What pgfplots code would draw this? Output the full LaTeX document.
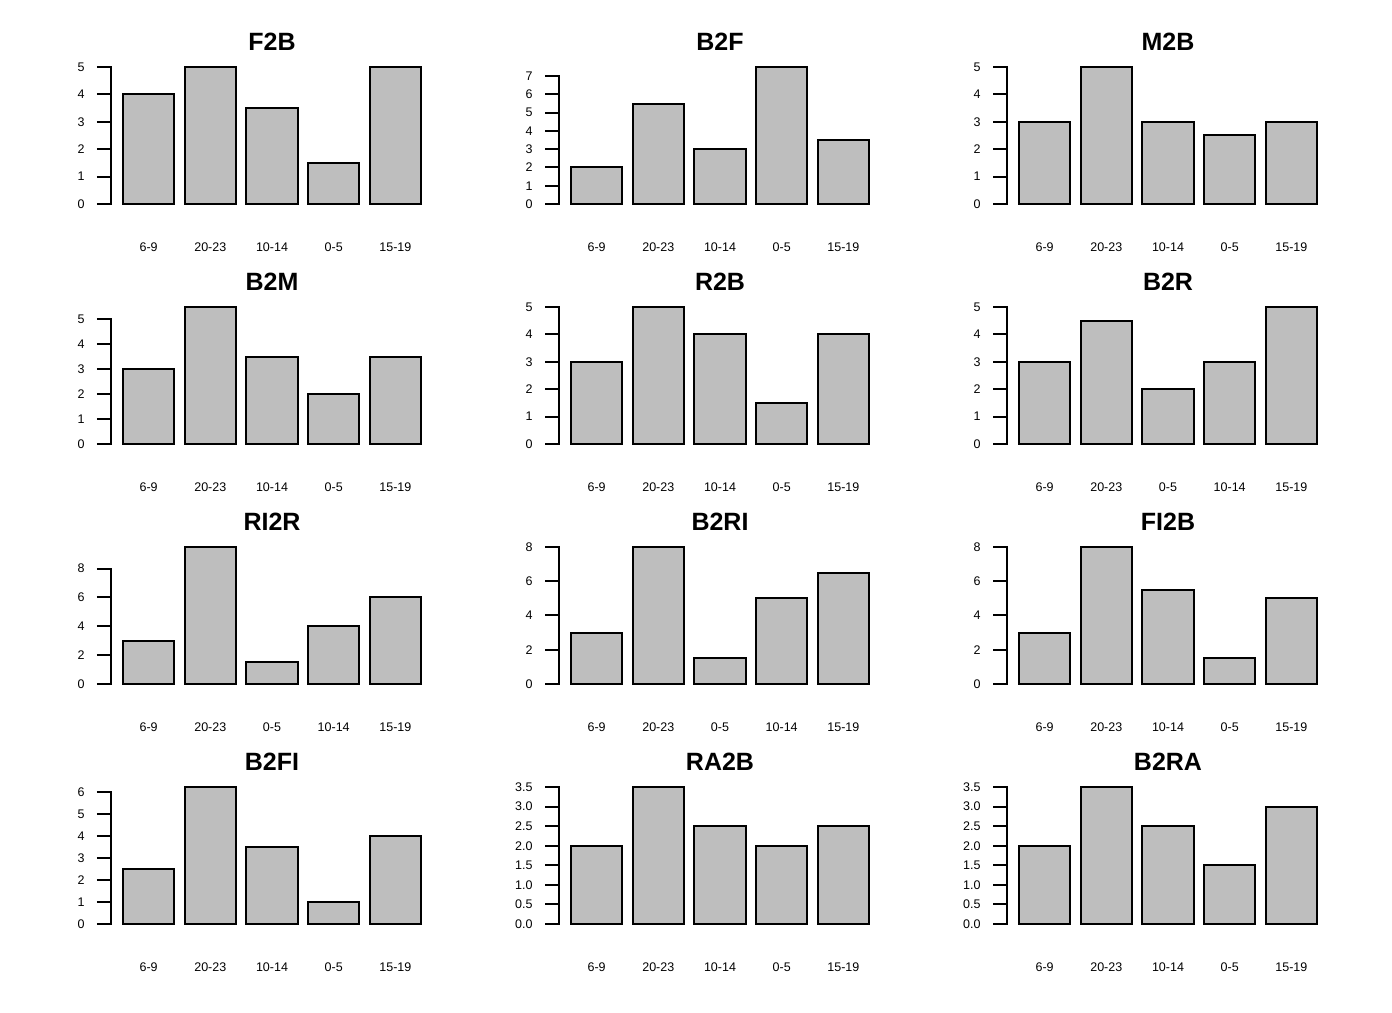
\documentclass[border=0pt]{standalone}
\usepackage{pgfplots}
\pgfplotsset{compat=1.18}
\usepackage{fontspec}
\setmainfont{Liberation Sans}
\definecolor{bargray}{HTML}{BEBEBE}
\pgfplotsset{
  pan/.style={
    scale only axis, width=322pt, height=148pt,
    xmin=-0.032, xmax=6.232,
    axis lines*=left, axis line style={draw=none},
    xtick={0.7,1.9,3.1,4.3,5.5},
    x tick style={draw=none},
    ytick pos=left, tick align=outside, major tick length=14pt,
    y tick style={black, line width=2pt},
    xticklabel style={font=\fontsize{12.5}{14}\selectfont, anchor=base, yshift=-28pt},
    yticklabel style={font=\fontsize{12.5}{14}\selectfont, anchor=east, xshift=-9pt},
    title style={font=\fontsize{25}{29}\selectfont\bfseries, at={(0.5,1)}, anchor=base, yshift=5pt},
    /pgf/number format/assume math mode=true,
    clip=false,
  },
  bars/.style={ybar, bar width=1, bar shift=0pt, fill=bargray, draw=black, line width=2pt},
}
\newcommand\panel[8]{%
  \pgfmathsetmacro\ylo{-0.04*#4}%
  \pgfmathsetmacro\yhi{1.04*#4}%
  \begin{axis}[pan, at={(#1pt,#2pt)}, anchor=south west,
    ymin=\ylo, ymax=\yhi, ytick={#5}, title={#3}, xticklabels={#7}]
    \addplot[bars] coordinates {#8};
    \draw[black, line width=2pt, line cap=rect] (axis cs:-0.032,0) -- (axis cs:-0.032,#6);
  \end{axis}}
\begin{document}
\begin{tikzpicture}
\path[use as bounding box, fill=white] (0,0) rectangle (1392pt,1012pt);
% row 1
\panel{111}{802.5}{F2B}{5}{0,1,2,3,4,5}{5}{6-9,20-23,10-14,0-5,15-19}{(0.7,4) (1.9,5) (3.1,3.5) (4.3,1.5) (5.5,5)}
\panel{559}{802.5}{B2F}{7.5}{0,1,2,3,4,5,6,7}{7}{6-9,20-23,10-14,0-5,15-19}{(0.7,2) (1.9,5.5) (3.1,3) (4.3,7.5) (5.5,3.5)}
\panel{1007}{802.5}{M2B}{5}{0,1,2,3,4,5}{5}{6-9,20-23,10-14,0-5,15-19}{(0.7,3) (1.9,5) (3.1,3) (4.3,2.5) (5.5,3)}
% row 2
\panel{111}{562.5}{B2M}{5.5}{0,1,2,3,4,5}{5}{6-9,20-23,10-14,0-5,15-19}{(0.7,3) (1.9,5.5) (3.1,3.5) (4.3,2) (5.5,3.5)}
\panel{559}{562.5}{R2B}{5}{0,1,2,3,4,5}{5}{6-9,20-23,10-14,0-5,15-19}{(0.7,3) (1.9,5) (3.1,4) (4.3,1.5) (5.5,4)}
\panel{1007}{562.5}{B2R}{5}{0,1,2,3,4,5}{5}{6-9,20-23,0-5,10-14,15-19}{(0.7,3) (1.9,4.5) (3.1,2) (4.3,3) (5.5,5)}
% row 3
\panel{111}{322.5}{RI2R}{9.5}{0,2,4,6,8}{8}{6-9,20-23,0-5,10-14,15-19}{(0.7,3) (1.9,9.5) (3.1,1.5) (4.3,4) (5.5,6)}
\panel{559}{322.5}{B2RI}{8}{0,2,4,6,8}{8}{6-9,20-23,0-5,10-14,15-19}{(0.7,3) (1.9,8) (3.1,1.5) (4.3,5) (5.5,6.5)}
\panel{1007}{322.5}{FI2B}{8}{0,2,4,6,8}{8}{6-9,20-23,10-14,0-5,15-19}{(0.7,3) (1.9,8) (3.1,5.5) (4.3,1.5) (5.5,5)}
% row 4
\panel{111}{82.5}{B2FI}{6.25}{0,1,2,3,4,5,6}{6}{6-9,20-23,10-14,0-5,15-19}{(0.7,2.5) (1.9,6.25) (3.1,3.5) (4.3,1) (5.5,4)}
\pgfplotsset{yticklabel style={/pgf/number format/fixed, /pgf/number format/fixed zerofill, /pgf/number format/precision=1}}
\panel{559}{82.5}{RA2B}{3.5}{0,0.5,1,1.5,2,2.5,3,3.5}{3.5}{6-9,20-23,10-14,0-5,15-19}{(0.7,2) (1.9,3.5) (3.1,2.5) (4.3,2) (5.5,2.5)}
\panel{1007}{82.5}{B2RA}{3.5}{0,0.5,1,1.5,2,2.5,3,3.5}{3.5}{6-9,20-23,10-14,0-5,15-19}{(0.7,2) (1.9,3.5) (3.1,2.5) (4.3,1.5) (5.5,3)}
\end{tikzpicture}
\end{document}
